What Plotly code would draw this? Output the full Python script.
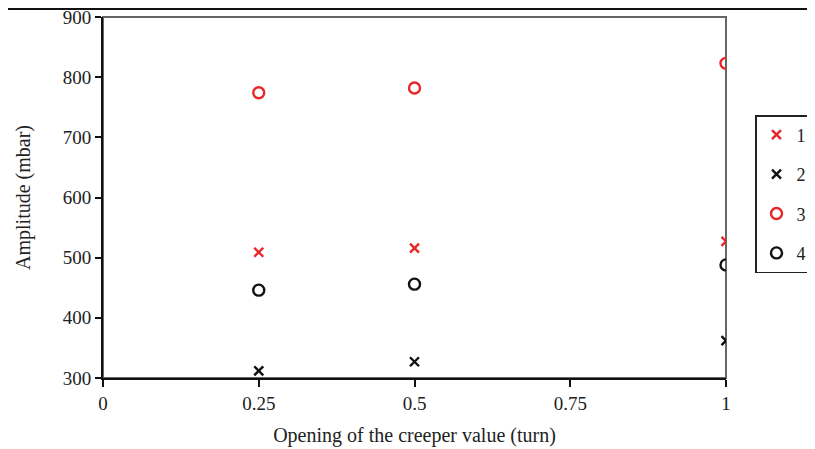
import plotly.graph_objects as go

openings = [0.25, 0.5, 1.0]
series_names = ["1", "2", "3", "4"]
s1 = [509, 516, 527]
s2 = [312, 327, 362]
s3 = [774, 782, 823]
s4 = [446, 456, 488]
x_ticks = [0, 0.25, 0.5, 0.75, 1]
x_tick_labels = ["0", "0.25", "0.5", "0.75", "1"]
y_ticks = [300, 400, 500, 600, 700, 800, 900]

RED = "#e8262a"
BLK = "#111111"
styles = [
    dict(symbol="x-thin-open", color=RED, size=9),
    dict(symbol="x-thin-open", color=BLK, size=9),
    dict(symbol="circle-open", color=RED, size=11),
    dict(symbol="circle-open", color=BLK, size=11),
]

fig = go.Figure()
for name, vals, st in zip(series_names, [s1, s2, s3, s4], styles):
    fig.add_trace(go.Scatter(
        x=openings, y=vals, mode="markers", name=name, legendgroup=name,
        marker=dict(symbol=st["symbol"], size=st["size"], color=st["color"],
                    line=dict(color=st["color"], width=2.4)),
    ))

# page body has an 8px margin, so work in figure coordinates offset by 8px
OFF = 8
W, H = 815 - OFF, 449 - OFF
L = 103 - OFF
T = 17 - OFF
R = W - (726 - OFF)
B = H - (378 - OFF)
pw = W - L - R
ph = H - T - B

font = "Liberation Serif, Times New Roman, serif"
fig.update_layout(
    width=W, height=H,
    margin=dict(l=L, r=R, t=T, b=B, autoexpand=False),
    paper_bgcolor="white", plot_bgcolor="white",
    font=dict(family=font, size=19, color="#222222"),
    showlegend=True,
    legend=dict(
        x=(755 - OFF - L) / pw, y=(H - B - (115 - OFF)) / ph, xanchor="left", yanchor="top",
        bordercolor="#222222", borderwidth=1.5, bgcolor="white",
        font=dict(family=font, size=18, color="#222222"),
        tracegroupgap=13, itemwidth=30,
    ),
    xaxis=dict(
        range=[0, 1], tickvals=x_ticks, ticktext=x_tick_labels,
        showgrid=False, zeroline=False, showline=True, linecolor="#111111", linewidth=2,
        ticks="outside", ticklen=7, tickwidth=2, tickcolor="#111111",
        tickfont=dict(family=font, size=19), ticklabeloverflow="allow",
        title=dict(text="Opening of the creeper value (turn)", standoff=15,
                   font=dict(family=font, size=20)),
    ),
    yaxis=dict(
        range=[300, 900], tickvals=y_ticks,
        showgrid=False, zeroline=False, showline=True, linecolor="#111111", linewidth=2,
        ticks="outside", ticklen=6, tickwidth=2, tickcolor="#111111",
        tickfont=dict(family=font, size=19), ticklabeloverflow="allow",
        title=dict(text="Amplitude (mbar)", standoff=27, font=dict(family=font, size=20)),
    ),
    shapes=[
        dict(type="rect", xref="paper", yref="paper", x0=0, x1=1, y0=0, y1=1,
             line=dict(color="#666666", width=2), layer="below"),
        dict(type="line", xref="paper", yref="paper",
             x0=-L / pw, x1=(W - L) / pw, y0=(H - B - (9 - OFF)) / ph, y1=(H - B - (9 - OFF)) / ph,
             line=dict(color="#111111", width=2)),
    ],
)

fig.write_html("out.html")
